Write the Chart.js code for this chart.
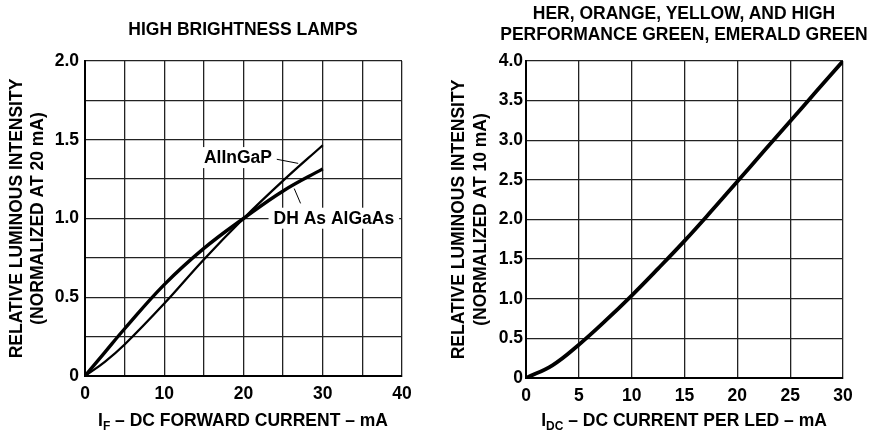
<!DOCTYPE html>
<html>
<head>
<meta charset="utf-8">
<script src="https://cdn.jsdelivr.net/npm/chart.js@4.4.1/dist/chart.umd.min.js"></script>
<style>
  html, body { margin: 0; background: #fff; overflow: hidden; font-family: "Liberation Sans", Arial, sans-serif; }
  .panel { position: absolute; top: 0; width: 435px; height: 441px; }
  .titulo { position: absolute; text-align: center; font-weight: bold; font-size: 17.5px; line-height: 20.5px; color: #000; white-space: nowrap; }
  .ejeX { position: absolute; text-align: center; font-weight: bold; font-size: 17.5px; color: #000; white-space: nowrap; }
  .ejeX sub { font-size: 12px; vertical-align: -4px; line-height: 0; }
</style>
</head>
<body>

<div class="panel" style="left:0"><canvas id="graficaIzq"></canvas></div>
<div class="panel" style="left:436px"><canvas id="graficaDer"></canvas></div>

<div class="titulo" style="left:43px; width:400px; top:19px;">HIGH BRIGHTNESS LAMPS</div>
<div class="titulo" style="left:494px; width:380px; top:3px;">HER, ORANGE, YELLOW, AND HIGH<br>PERFORMANCE GREEN, EMERALD GREEN</div>

<div class="ejeX" style="left:43px; width:400px; top:410px;">I<sub>F</sub> &ndash; DC FORWARD CURRENT &ndash; mA</div>
<div class="ejeX" style="left:494px; width:380px; top:410px;">I<sub>DC</sub> &ndash; DC CURRENT PER LED &ndash; mA</div>

<script>
// --- Datos ---
// Izquierda: lamparas de alto brillo (normalizado a 20 mA)
const corrienteIzq = [0, 2.5, 5, 10, 15, 20, 25, 30];
const alInGaP      = [0, 0.09, 0.20, 0.46, 0.74, 1.0, 1.24, 1.465];
const dhAlGaAs     = [0, 0.15, 0.30, 0.58, 0.81, 1.0, 1.175, 1.315];
const ticksXIzq    = ['0', '10', '20', '30', '40'];
const ticksYIzq    = ['0', '0.5', '1.0', '1.5', '2.0'];

// Derecha: HER, naranja, amarillo, verde (normalizado a 10 mA)
const corrienteDer = [0, 2.5, 5, 7.5, 10, 12.5, 15, 17.5, 20, 22.5, 25, 27.5, 30];
const intensidadDer = [0, 0.16, 0.42, 0.72, 1.04, 1.38, 1.73, 2.10, 2.48, 2.86, 3.24, 3.62, 4.0];
const ticksXDer    = ['0', '5', '10', '15', '20', '25', '30'];
const ticksYDer    = ['0', '0.5', '1.0', '1.5', '2.0', '2.5', '3.0', '3.5', '4.0'];

const FUENTE = { family: '"Liberation Sans", Arial, sans-serif', size: 17.5, weight: 'bold' };

function puntos(xs, ys) {
    return xs.map((x, i) => ({ x: x, y: ys[i] }));
}

// Etiquetas con caja blanca y linea guia (en unidades de datos)
const etiquetasCurvas = {
    id: 'etiquetasCurvas',
    beforeDatasetsDraw(chart, args, opts) {
        const items = opts.items || [];
        const ctx = chart.ctx;
        const sx = chart.scales.x, sy = chart.scales.y;
        ctx.save();
        ctx.font = 'bold 17.5px "Liberation Sans", Arial, sans-serif';
        ctx.textAlign = 'center';
        ctx.textBaseline = 'middle';
        items.forEach(it => {
            const cx = sx.getPixelForValue(it.x);
            const cy = sy.getPixelForValue(it.y);
            const w = ctx.measureText(it.texto).width;
            ctx.fillStyle = '#fff';
            ctx.fillRect(cx - w / 2 - it.pad, cy - 10, w + it.pad * 2, 21);
            ctx.fillStyle = '#000';
            ctx.fillText(it.texto, cx, cy + 1);
            ctx.strokeStyle = '#000';
            ctx.lineWidth = 1;
            ctx.beginPath();
            ctx.moveTo(sx.getPixelForValue(it.guia[0]), sy.getPixelForValue(it.guia[1]));
            ctx.lineTo(sx.getPixelForValue(it.guia[2]), sy.getPixelForValue(it.guia[3]));
            ctx.stroke();
        });
        ctx.restore();
    }
};

function escalas(cfg) {
    return {
        x: {
            type: 'linear', min: 0, max: cfg.xMax,
            afterFit: s => { s.height = 30; },
            afterBuildTicks: s => {
                s.ticks = [];
                for (let v = 0; v <= cfg.xMax; v += 5) s.ticks.push({ value: v });
            },
            ticks: {
                autoSkip: false, maxRotation: 0, padding: 8, color: '#000', font: FUENTE,
                callback: v => {
                    const k = v / cfg.xPaso;
                    return Number.isInteger(k) ? cfg.xLabels[k] : '';
                }
            },
            grid: { color: '#222', lineWidth: 1.3, drawTicks: false },
            border: { color: '#000', width: 2 }
        },
        y: {
            type: 'linear', min: 0, max: cfg.yMax,
            afterFit: s => { s.width = cfg.anchoY; },
            afterBuildTicks: s => {
                s.ticks = [];
                for (let k = 0; k <= 8; k++) s.ticks.push({ value: k * cfg.yMax / 8 });
            },
            ticks: {
                autoSkip: false, padding: cfg.padY, color: '#000', font: FUENTE,
                callback: v => {
                    const k = Math.round(v / cfg.yPaso * 1000) / 1000;
                    return Number.isInteger(k) ? cfg.yLabels[k] : '';
                }
            },
            grid: { color: '#222', lineWidth: 1.3, drawTicks: false },
            border: { color: '#000', width: 2 },
            title: {
                display: true,
                text: ['RELATIVE LUMINOUS INTENSITY', cfg.norm],
                color: '#000',
                font: { family: FUENTE.family, size: 17.5, weight: 'bold', lineHeight: cfg.lh },
                padding: { top: cfg.padTitulo, bottom: 0 }
            }
        }
    };
}

// --- Grafica izquierda ---
new Chart(document.getElementById('graficaIzq'), {
    type: 'line',
    data: {
        datasets: [
            { label: 'AlInGaP', data: puntos(corrienteIzq, alInGaP), borderColor: '#000', borderWidth: 2.3, pointRadius: 0, tension: 0.4, fill: false },
            { label: 'DH As AlGaAs', data: puntos(corrienteIzq, dhAlGaAs), borderColor: '#000', borderWidth: 3.4, pointRadius: 0, tension: 0.4, fill: false }
        ]
    },
    options: {
        responsive: true, maintainAspectRatio: false, animation: false,
        layout: { padding: { left: 0, top: 61, right: 33, bottom: 35 } },
        plugins: {
            legend: { display: false }, tooltip: { enabled: false },
            etiquetasCurvas: {
                items: [
                    { texto: 'AlInGaP', x: 19.3, y: 1.39, pad: 2, guia: [24.2, 1.376, 26.9, 1.35] },
                    { texto: 'DH As AlGaAs', x: 31.4, y: 1.005, pad: 5, guia: [26.4, 1.19, 27.2, 1.096] }
                ]
            }
        },
        scales: escalas({ xMax: 40, xPaso: 10, xLabels: ticksXIzq, yMax: 2, yPaso: 0.5, yLabels: ticksYIzq,
                          anchoY: 85, padY: 6, norm: '(NORMALIZED AT 20 mA)', lh: 1.22, padTitulo: 6.5 })
    },
    plugins: [etiquetasCurvas]
});

// --- Grafica derecha ---
new Chart(document.getElementById('graficaDer'), {
    type: 'line',
    data: {
        datasets: [
            { label: 'Intensidad', data: puntos(corrienteDer, intensidadDer), borderColor: '#000', borderWidth: 3.8, pointRadius: 0, tension: 0.4, fill: false }
        ]
    },
    options: {
        responsive: true, maintainAspectRatio: false, animation: false,
        layout: { padding: { left: 0, top: 61, right: 28, bottom: 33 } },
        plugins: { legend: { display: false }, tooltip: { enabled: false } },
        scales: escalas({ xMax: 30, xPaso: 5, xLabels: ticksXDer, yMax: 4, yPaso: 0.5, yLabels: ticksYDer,
                          anchoY: 90, padY: 3, norm: '(NORMALIZED AT 10 mA)', lh: 1.28, padTitulo: 11.5 })
    }
});
</script>
</body>
</html>
